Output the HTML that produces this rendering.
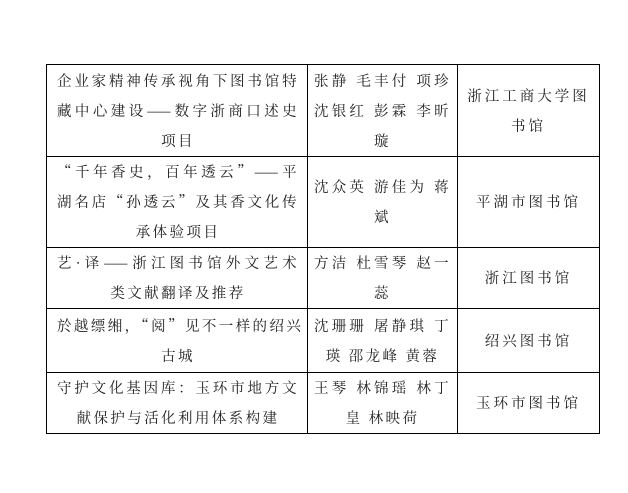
<!DOCTYPE html>
<html><head><meta charset="utf-8"><style>
html,body{margin:0;padding:0;background:#fff;width:628px;height:493px;overflow:hidden}
table{position:absolute;left:46px;top:64px;border-collapse:collapse;table-layout:fixed;width:553px}
td{border:1px solid #000;padding:0;vertical-align:middle;font-family:"Noto Serif CJK SC","Liberation Serif","Noto Sans CJK SC",serif;font-size:14.5px;line-height:30px;color:#222;text-align:center;letter-spacing:2.4px}
td.c1{padding:0 8px 0 10px}
td.c2{padding:0 6px 0 6px}
td.c3{letter-spacing:3px}
.j{display:block;text-align:justify;text-align-last:justify;white-space:nowrap}
.c2 .j{white-space:normal}
</style></head><body>
<table>
<colgroup><col style="width:261px"><col style="width:150px"><col style="width:142px"></colgroup>
<tr style="height:92px"><td class="c1"><span class="j">企业家精神传承视角下图书馆特</span><span class="j">藏中心建设——数字浙商口述史</span>项目</td><td class="c2"><span class="j">张静 毛丰付 项珍</span><span class="j">沈银红 彭霖 李昕</span>璇</td><td class="c3">浙江工商大学图<br>书馆</td></tr>
<tr style="height:91px"><td class="c1"><span class="j">“千年香史，百年透云”——平</span><span class="j">湖名店“孙透云”及其香文化传</span>承体验项目</td><td class="c2"><span class="j">沈众英 游佳为 蒋</span>斌</td><td class="c3">平湖市图书馆</td></tr>
<tr style="height:61px"><td class="c1"><span class="j">艺·译——浙江图书馆外文艺术</span>类文献翻译及推荐</td><td class="c2"><span class="j">方洁 杜雪琴 赵一</span>蕊</td><td class="c3">浙江图书馆</td></tr>
<tr style="height:64px"><td class="c1"><span class="j">於越缥缃，“阅”见不一样的绍兴</span>古城</td><td class="c2"><span class="j">沈珊珊 屠静琪 丁</span>瑛 邵龙峰 黄蓉</td><td class="c3">绍兴图书馆</td></tr>
<tr style="height:59px"><td class="c1"><span class="j">守护文化基因库：玉环市地方文</span>献保护与活化利用体系构建</td><td class="c2"><span class="j">王琴 林锦瑶 林丁</span>皇 林映荷</td><td class="c3">玉环市图书馆</td></tr>
</table>
</body></html>
